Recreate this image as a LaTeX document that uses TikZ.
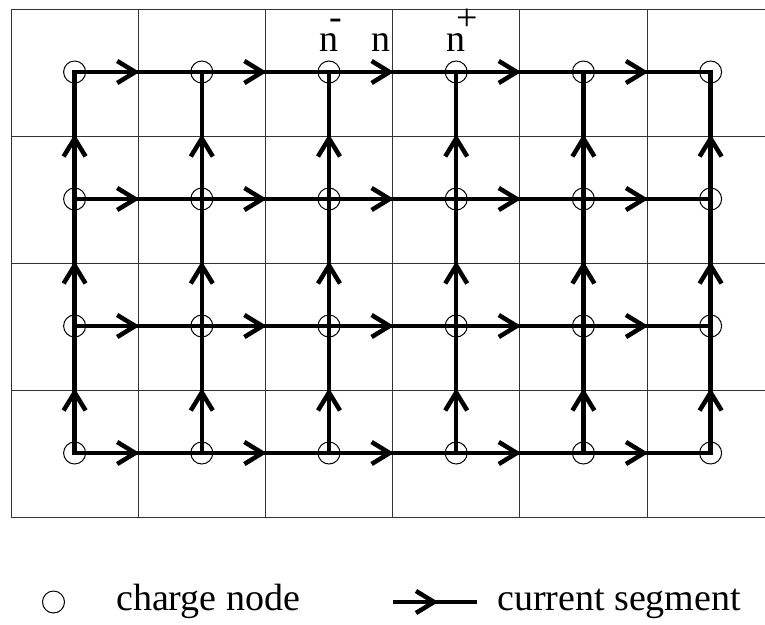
\documentclass[tikz,border=0pt]{standalone}
\usepackage{fontspec}
\setmainfont{Liberation Serif}
\usetikzlibrary{decorations.markings}

\tikzset{
  gridline/.style={line width=1pt, black!80},
  chargenode/.style={circle, draw, line width=1pt, minimum size=22pt, inner sep=0pt},
  segment/.style={line width=4.5pt, line cap=rect, postaction={decorate},
    decoration={markings, mark=at position #1 with {
      \draw[line width=4.5pt, line cap=butt, line join=miter]
        (-21pt,11pt) -- (-3pt,0pt) -- (-21pt,-11pt);}}},
  segment/.default=0.5,
  lbl/.style={font=\fontsize{38}{44}\selectfont, inner sep=0pt}
}

\begin{document}
\begin{tikzpicture}[x=1pt, y=-1pt]
  % page area
  \fill[white] (0,0) rectangle (765,624);
  \useasboundingbox (0,0) rectangle (765,624);

  % cell grid (right border lies past the page edge)
  \begin{scope}
    \clip (0,0) rectangle (765,624);
    \foreach \k in {0,...,6}
      \draw[gridline] ({11+127.2*\k},9) -- ({11+127.2*\k},517);
    \foreach \k in {0,...,4}
      \draw[gridline] (11,{9+127*\k}) -- (775,{9+127*\k});
  \end{scope}

  % charge nodes at the cell centres
  \foreach \i in {0,...,3}
    \foreach \j in {0,...,5}
      \node[chargenode] (n-\i-\j) at ({74.6+127.2*\j},{72+127*\i}) {};

  % horizontal current segments
  \foreach \i in {0,...,3}
    \foreach \j/\jn in {0/1,1/2,2/3,3/4,4/5}
      \draw[segment] (n-\i-\j.center) -- (n-\i-\jn.center);

  % vertical current segments, pointing up
  \foreach \j in {0,...,5}
    \foreach \i/\ip in {1/0,2/1,3/2}
      \draw[segment] (n-\i-\j.center) -- (n-\ip-\j.center);

  % index labels
  \node[lbl, anchor=base west] (lab-nm) at (319.5,51.7) {n\kern-8.8pt\raisebox{22pt}{-}};
  \node[lbl, anchor=base] (lab-n) at (381,51.7) {n};
  \node[lbl, anchor=base west] (lab-np) at (446.5,51.7) {n\kern-9.2pt\raisebox{21pt}{+}};

  % legend
  \node[chargenode] (leg-node) at (53.5,602) {};
  \node[lbl, anchor=base west] (leg-node-text) at (116,610) {charge node};
  \coordinate (leg-a) at (393,602);
  \coordinate (leg-b) at (477,602);
  \draw[segment=44pt, line cap=butt] (leg-a) -- (leg-b);
  \node[lbl, anchor=base west] (leg-seg-text) at (497,610) {current segment};
\end{tikzpicture}
\end{document}
